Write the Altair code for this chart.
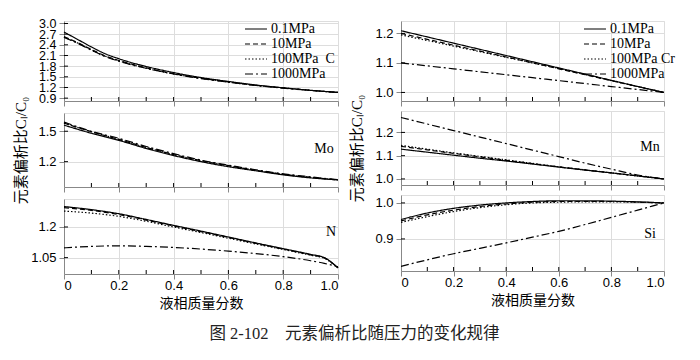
import altair as alt
import pandas as pd

SERIF = "Liberation Serif, Noto Sans CJK SC"

pressures = ["0.1MPa", "10MPa", "100MPa", "1000MPa"]
dashes = [[1, 0], [5, 3], [1.5, 2], [8, 3, 2, 3]]

x_major = [0, 0.2, 0.4, 0.6, 0.8, 1.0]
x_minor = [0.1, 0.2, 0.3, 0.4, 0.5, 0.6, 0.7, 0.8, 0.9]
x_std = [0.0, 0.1, 0.2, 0.3, 0.4, 0.5, 0.6, 0.7, 0.8, 0.9, 1.0]

# ---- C ----
c_x = [0.0, 0.05, 0.1, 0.15, 0.2, 0.25, 0.3, 0.4, 0.5, 0.6, 0.7, 0.8, 0.9, 1.0]
c_01 = [2.76, 2.55, 2.34, 2.15, 2.01, 1.89, 1.79, 1.62, 1.48, 1.37, 1.27, 1.19, 1.12, 1.06]
c_10 = [2.63, 2.46, 2.27, 2.09, 1.96, 1.85, 1.75, 1.59, 1.46, 1.36, 1.26, 1.19, 1.12, 1.06]
c_100 = [2.62, 2.45, 2.26, 2.08, 1.95, 1.84, 1.74, 1.58, 1.46, 1.35, 1.26, 1.19, 1.12, 1.06]
c_1000 = [2.61, 2.44, 2.25, 2.07, 1.94, 1.83, 1.74, 1.58, 1.45, 1.35, 1.26, 1.18, 1.12, 1.06]
c_ticks = [0.9, 1.2, 1.5, 1.8, 2.1, 2.4, 2.7, 3.0]
c_domain = [0.82, 3.07]

# ---- Mo ----
mo_01 = [1.56, 1.48, 1.41, 1.33, 1.26, 1.20, 1.15, 1.11, 1.07, 1.04, 1.02]
mo_10 = [1.58, 1.495, 1.42, 1.34, 1.27, 1.21, 1.16, 1.115, 1.075, 1.045, 1.02]
mo_100 = [1.58, 1.495, 1.42, 1.34, 1.27, 1.21, 1.16, 1.115, 1.075, 1.045, 1.02]
mo_1000 = [1.59, 1.50, 1.43, 1.35, 1.28, 1.215, 1.165, 1.12, 1.08, 1.05, 1.022]
mo_ticks = [1.2, 1.5]
mo_domain = [0.95, 1.68]

# ---- N ----
n_x = [0.0, 0.1, 0.2, 0.3, 0.4, 0.5, 0.6, 0.7, 0.8, 0.9, 0.95, 1.0]
n_01 = [1.30, 1.285, 1.265, 1.237, 1.208, 1.18, 1.151, 1.122, 1.094, 1.066, 1.05, 1.0]
n_10 = [1.295, 1.281, 1.261, 1.234, 1.205, 1.177, 1.149, 1.12, 1.092, 1.064, 1.049, 1.0]
n_100 = [1.278, 1.268, 1.252, 1.228, 1.20, 1.173, 1.145, 1.117, 1.09, 1.062, 1.047, 1.0]
n_1000 = [1.098, 1.105, 1.108, 1.105, 1.10, 1.092, 1.082, 1.07, 1.055, 1.035, 1.022, 1.005]
n_ticks = [1.05, 1.2]
n_domain = [0.97, 1.337]

# ---- Cr ----
cr_01 = [1.209, 1.188, 1.167, 1.146, 1.125, 1.104, 1.083, 1.062, 1.041, 1.02, 1.0]
cr_10 = [1.20, 1.18, 1.16, 1.14, 1.12, 1.10, 1.08, 1.06, 1.04, 1.02, 1.0]
cr_100 = [1.195, 1.176, 1.157, 1.138, 1.119, 1.10, 1.081, 1.061, 1.04, 1.02, 1.0]
cr_1000 = [1.10, 1.09, 1.08, 1.07, 1.06, 1.05, 1.04, 1.03, 1.02, 1.01, 1.0]
cr_ticks = [1.0, 1.1, 1.2]
cr_domain = [0.971, 1.242]

# ---- Mn ----
mn_01 = [1.128, 1.115, 1.102, 1.089, 1.077, 1.064, 1.051, 1.038, 1.026, 1.013, 1.0]
mn_10 = [1.14, 1.125, 1.11, 1.095, 1.08, 1.066, 1.052, 1.039, 1.026, 1.013, 1.0]
mn_100 = [1.144, 1.128, 1.112, 1.097, 1.082, 1.067, 1.052, 1.039, 1.026, 1.013, 1.0]
mn_1000 = [1.264, 1.236, 1.208, 1.18, 1.152, 1.124, 1.096, 1.068, 1.042, 1.017, 1.0]
mn_ticks = [1.0, 1.1, 1.2]
mn_domain = [0.974, 1.292]

# ---- Si ----
si_01 = [0.954, 0.972, 0.985, 0.994, 1.0, 1.004, 1.006, 1.006, 1.005, 1.003, 1.0]
si_10 = [0.95, 0.967, 0.98, 0.99, 0.997, 1.002, 1.004, 1.004, 1.004, 1.002, 1.0]
si_100 = [0.946, 0.962, 0.976, 0.987, 0.995, 1.0, 1.002, 1.003, 1.003, 1.002, 1.0]
si_1000 = [0.824, 0.842, 0.859, 0.874, 0.889, 0.905, 0.921, 0.94, 0.96, 0.98, 1.0]
si_ticks = [0.9, 1.0]
si_domain = [0.811, 1.022]

LABEL_EXPR_Y = "datum.value % 1 == 0 ? format(datum.value, '.1f') : toString(datum.value)"
LABEL_EXPR_X = "datum.value == 0 ? '0' : format(datum.value, '.1f')"


def panel(xs, series, domain, yticks, width, height, bottom=False,
          legend_extra=None, ytitle=None, ytitle_pad=10, elem=None,
          elem_xy=(0, 0), ylab_size=13):
    rows = []
    for p, vals in zip(pressures, series):
        for xv, vv in zip(xs, vals):
            rows.append({"x": xv, "v": vv, "p": p})
    df = pd.DataFrame(rows)

    x_axis = alt.Axis(values=x_major, labels=bottom, labelExpr=LABEL_EXPR_X,
                      labelFontSize=13, labelPadding=0,
                      title="液相质量分数" if bottom else None,
                      titleFont=SERIF, titleFontSize=14, titleFontWeight="normal",
                      titlePadding=4)
    y_axis = alt.Axis(values=yticks, labelExpr=LABEL_EXPR_Y, labelOverlap=False,
                      labelFontSize=ylab_size, labelPadding=3,
                      title=ytitle if ytitle else None,
                      titleFont=SERIF, titleFontSize=15, titleFontWeight="normal",
                      titlePadding=ytitle_pad)
    X = alt.X("x:Q", scale=alt.Scale(domain=[0, 1], nice=False), axis=x_axis)
    Y = alt.Y("v:Q", scale=alt.Scale(domain=domain, nice=False, zero=False), axis=y_axis)

    if legend_extra:
        leg = alt.Legend(orient="none", legendX=legend_extra[1], legendY=0,
                         title=None, labelFont=SERIF, labelFontSize=14,
                         labelColor="black", symbolType="M-1,0H2.14", symbolSize=196,
                         symbolStrokeWidth=1.2, symbolStrokeColor="black",
                         symbolFillColor="transparent",
                         rowPadding=0, labelOffset=11, padding=0,
                         labelExpr="datum.label == '100MPa' ? '" + legend_extra[0] + "' : datum.label")
    else:
        leg = None

    lines = alt.Chart(df).mark_line(color="black", strokeWidth=1.2,
                                    interpolate="monotone").encode(
        x=X, y=Y,
        strokeDash=alt.StrokeDash("p:N", scale=alt.Scale(domain=pressures, range=dashes),
                                  legend=leg, sort=pressures),
    )
    xt = alt.Chart(pd.DataFrame({"x": x_minor})).mark_rule(color="black", strokeWidth=1).encode(
        x=X, y=alt.value(height), y2=alt.value(height - 4))
    yt = alt.Chart(pd.DataFrame({"v": yticks})).mark_rule(color="black", strokeWidth=1).encode(
        y=Y, x=alt.value(0), x2=alt.value(4))
    layers = [lines, xt, yt]
    if elem:
        lab = alt.Chart(pd.DataFrame({"t": [elem]})).mark_text(
            font=SERIF, fontSize=14, color="black", align="center", baseline="middle"
        ).encode(text="t:N", x=alt.value(elem_xy[0]), y=alt.value(elem_xy[1]))
        layers.append(lab)
    return alt.layer(*layers).properties(width=width, height=height)


WL, WR = 274, 263
YT = "元素偏析比Cₗ/C₀"

pC = panel(c_x, [c_01, c_10, c_100, c_1000], c_domain, c_ticks, WL, 80,
           legend_extra=("100MPa\u00a0\u00a0C", 180), ylab_size=12.5)
pMo = panel(x_std, [mo_01, mo_10, mo_100, mo_1000], mo_domain, mo_ticks, WL, 74,
            ytitle=YT, ytitle_pad=9, elem="Mo", elem_xy=(260, 36))
pN = panel(n_x, [n_01, n_10, n_100, n_1000], n_domain, n_ticks, WL, 75, bottom=True,
           elem="N", elem_xy=(267, 33))

pCr = panel(x_std, [cr_01, cr_10, cr_100, cr_1000], cr_domain, cr_ticks, WR, 80,
            legend_extra=("100MPa\u00a0Cr", 182))
pMn = panel(x_std, [mn_01, mn_10, mn_100, mn_1000], mn_domain, mn_ticks, WR, 74,
            ytitle=YT, ytitle_pad=10, elem="Mn", elem_xy=(249, 36))
pSi = panel(x_std, [si_01, si_10, si_100, si_1000], si_domain, si_ticks, WR, 76, bottom=True,
            elem="Si", elem_xy=(249, 39))

left = alt.vconcat(pC, pMo, pN, spacing=12, bounds="flush").resolve_scale(
    strokeDash="independent").resolve_legend(strokeDash="independent")
right = alt.vconcat(pCr, pMn, pSi, spacing=10, bounds="flush").resolve_scale(
    strokeDash="independent").resolve_legend(strokeDash="independent")

chart = alt.hconcat(left, right, spacing=8).resolve_scale(
    strokeDash="independent").resolve_legend(strokeDash="independent").properties(
    title=alt.TitleParams("图 2-102\u00a0\u00a0\u00a0\u00a0元素偏析比随压力的变化规律",
                          orient="bottom", anchor="middle", font=SERIF, fontSize=16.5,
                          fontWeight="normal", color="#222222", offset=15, dx=10),
    padding={"left": 5, "top": 8, "right": 5, "bottom": 5},
).configure_view(stroke="black", strokeWidth=1).configure_axis(
    domain=False, ticks=False, grid=False, labelColor="black", titleColor="black",
    labelFont=SERIF
).configure(background="white")

chart.save("out.html", embed_options={"renderer": "svg", "actions": False})
